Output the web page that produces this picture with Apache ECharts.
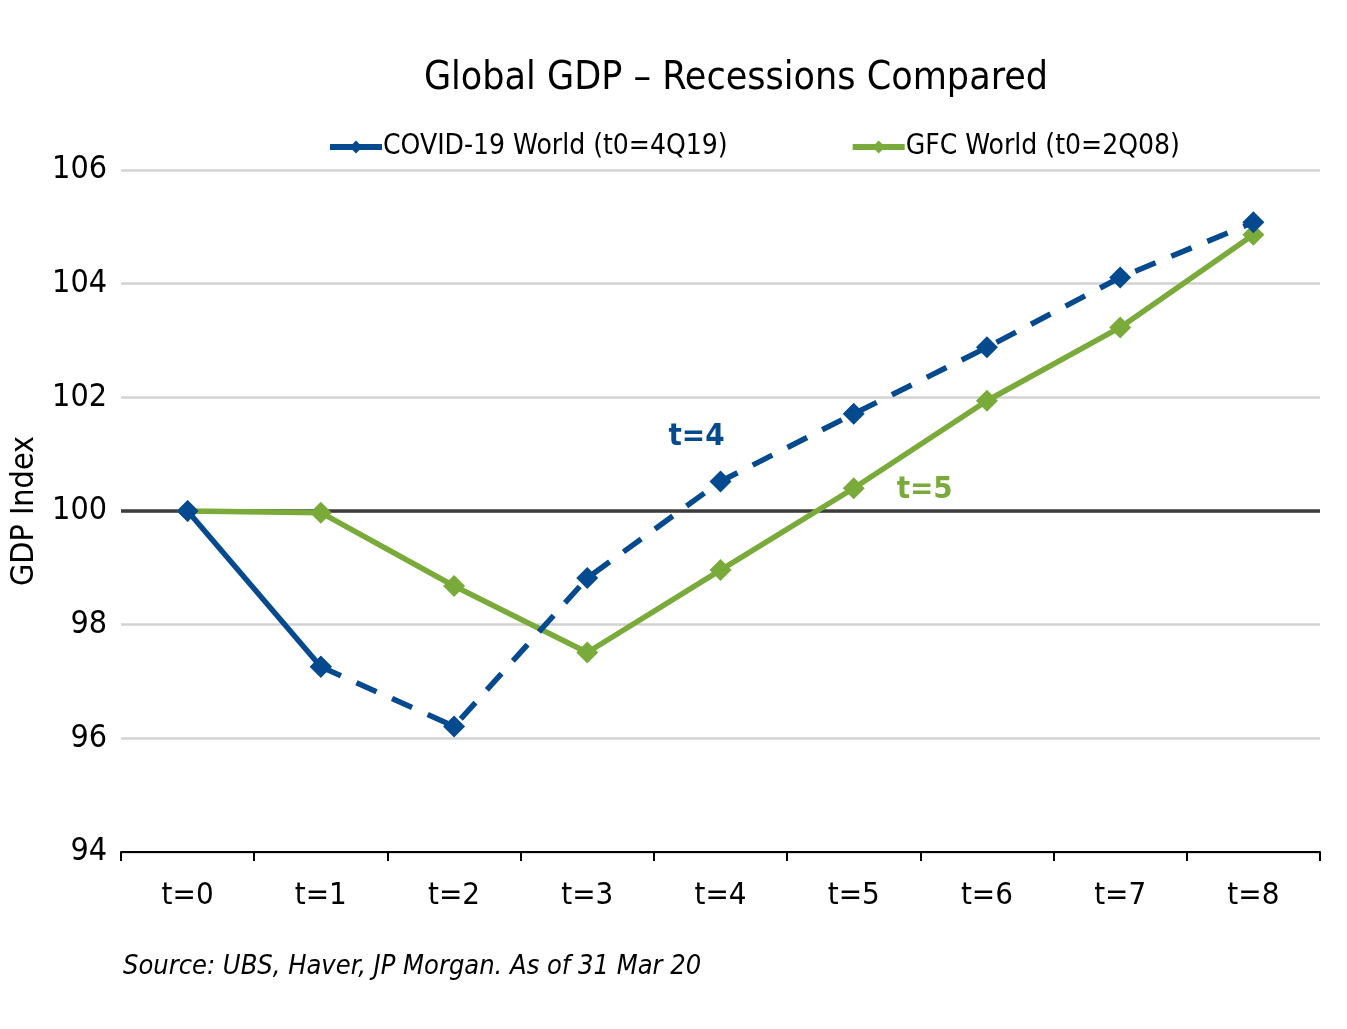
<!DOCTYPE html>
<html>
<head>
<meta charset="utf-8">
<script src="https://cdn.jsdelivr.net/npm/echarts@6/dist/echarts.min.js"></script>
<style>
  html, body { margin: 0; padding: 0; background: #fff; }
  #chart { width: 1347px; height: 1029px; }
</style>
</head>
<body>
<div id="chart"></div>
<script>
// data
var periods = ['t=0', 't=1', 't=2', 't=3', 't=4', 't=5', 't=6', 't=7', 't=8'];
var covidWorld = [100, 97.26, 96.21, 98.82, 100.52, 101.71, 102.88, 104.11, 105.08];
var gfcWorld = [100, 99.97, 98.68, 97.51, 98.96, 100.40, 101.94, 103.23, 104.86];
var yTicks = {min: 94, max: 106, step: 2};

var covidName = 'COVID-19 World (t0=4Q19)';
var gfcName = 'GFC World (t0=2Q08)';
var blue = '#054a8f';
var green = '#7aab3a';
var font = '"DejaVu Sans Condensed", "Liberation Sans Narrow", sans-serif';

// covid: solid for the first step, dashed after
var covidSolid = covidWorld.map(function (v, i) { return i <= 1 ? v : null; });
var covidDashed = covidWorld.map(function (v, i) {
    if (i < 1) return null;
    if (i === 4) {
        return {
            value: v,
            label: {show: true, formatter: 't=4', position: 'inside', offset: [-24, -44],
                color: blue, fontSize: 31, fontWeight: 'bold', fontFamily: font}
        };
    }
    return v;
});
var gfcData = gfcWorld.map(function (v, i) {
    if (i === 5) {
        return {
            value: v,
            label: {show: true, formatter: 't=5', position: 'inside', offset: [71, 2],
                color: green, fontSize: 31, fontWeight: 'bold', fontFamily: font}
        };
    }
    return v;
});

var chart = echarts.init(document.getElementById('chart'));
var option = {
    animation: false,
    backgroundColor: '#fff',
    title: {
        text: 'Global GDP \u2013 Recessions Compared',
        left: 731,
        textAlign: 'center',
        top: 54,
        textStyle: {fontFamily: font, fontSize: 39, fontWeight: 'normal', color: '#000'}
    },
    legend: {
        data: [covidName, gfcName],
        top: 128,
        left: 322,
        itemGap: 122,
        itemWidth: 52,
        itemHeight: 16,
        lineStyle: {width: 6},
        textStyle: {fontFamily: font, fontSize: 28, color: '#000', padding: [0, 0, 0, -4]}
    },
    grid: {left: 121, right: 27, top: 170, bottom: 177, outerBoundsMode: 'none'},
    xAxis: {
        type: 'category',
        data: periods,
        boundaryGap: true,
        axisLine: {lineStyle: {color: '#000', width: 2}},
        axisTick: {show: true, length: 9, lineStyle: {color: '#000', width: 2}},
        axisLabel: {color: '#000', fontFamily: font, fontSize: 31, margin: 28}
    },
    yAxis: {
        type: 'value',
        min: yTicks.min,
        max: yTicks.max,
        interval: yTicks.step,
        name: 'GDP Index',
        nameLocation: 'middle',
        nameGap: 72,
        nameTextStyle: {fontFamily: font, fontSize: 32, color: '#000'},
        axisLine: {show: false},
        axisTick: {show: false},
        axisLabel: {color: '#000', fontFamily: font, fontSize: 32, margin: 14},
        splitLine: {lineStyle: {color: '#d2d2d2', width: 2.5}}
    },
    series: [
        {
            name: covidName,
            type: 'line',
            data: covidSolid,
            symbol: 'diamond',
            symbolSize: 22,
            itemStyle: {color: blue},
            lineStyle: {color: blue, width: 5.5},
            z: 4,
            markLine: {
                silent: true,
                symbol: 'none',
                label: {show: false},
                lineStyle: {color: '#3c3c3c', width: 3.5, type: 'solid'},
                data: [{yAxis: 100}],
                z: 1
            }
        },
        {
            name: covidName,
            type: 'line',
            data: covidDashed,
            symbol: 'diamond',
            symbolSize: 22,
            itemStyle: {color: blue},
            lineStyle: {color: blue, width: 5.5, type: [22, 17]},
            z: 4
        },
        {
            name: gfcName,
            type: 'line',
            data: gfcData,
            symbol: 'diamond',
            symbolSize: 22,
            itemStyle: {color: green},
            lineStyle: {color: green, width: 5.5},
            z: 3
        }
    ],
    graphic: [
        {
            type: 'text',
            left: 123,
            top: 953,
            style: {
                text: 'Source: UBS, Haver, JP Morgan. As of 31 Mar 20',
                fontFamily: font,
                fontStyle: 'italic',
                fontSize: 27,
                fill: '#000'
            }
        }
    ]
};
chart.setOption(option);
</script>
</body>
</html>
